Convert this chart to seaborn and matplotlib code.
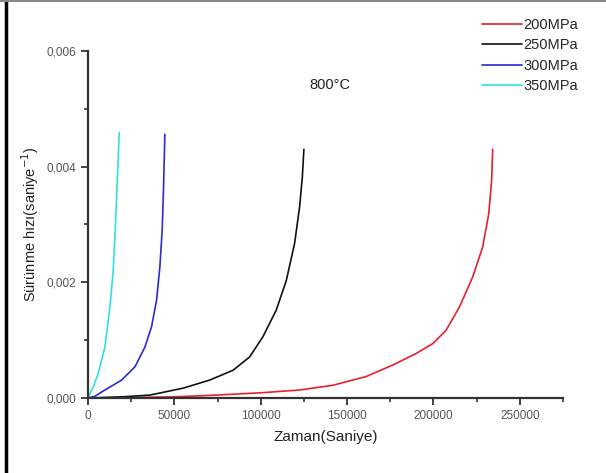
import pandas as pd
import seaborn as sns
import matplotlib.pyplot as plt
from matplotlib.lines import Line2D
from matplotlib.ticker import FuncFormatter, MultipleLocator

# Values (time in s, creep rate in 1/s)
t_200 = [0, 25000, 50000, 74400, 100000, 122500, 141800, 161000, 176500, 190000, 199600,
         207300, 215000, 222700, 228500, 232000, 233700, 234300]
r_200 = [0, 0.000008, 0.00002, 0.00005, 0.00009, 0.000138, 0.00022, 0.00037, 0.00057, 0.00077,
         0.00094, 0.00117, 0.00157, 0.00209, 0.00261, 0.00318, 0.00376, 0.0043]

t_250 = [0, 20000, 35800, 55100, 70500, 84000, 93600, 101300, 109000, 114800, 119600,
         122500, 124100, 125000]
r_250 = [0, 0.00002, 0.00005, 0.00017, 0.00031, 0.00048, 0.00071, 0.00106, 0.00152, 0.00203,
         0.00267, 0.0033, 0.00382, 0.0043]

t_300 = [0, 4000, 9800, 19500, 27200, 32950, 36800, 39700, 41600, 42950, 43750, 44500]
r_300 = [0, 0.00003, 0.000138, 0.00031, 0.00054, 0.00088, 0.00123, 0.00169, 0.00226, 0.0029,
         0.00364, 0.00456]

t_350 = [0, 3060, 5950, 9800, 12700, 14600, 16000, 16950, 18100]
r_350 = [0, 0.000195, 0.000426, 0.00088, 0.00157, 0.0022, 0.00307, 0.00376, 0.00459]

labels = ["200MPa", "250MPa", "300MPa", "350MPa"]
colors = ["#e8202a", "#111111", "#2a2ad6", "#30e0e0"]

frames = []
for lab, t, r in zip(labels, [t_200, t_250, t_300, t_350], [r_200, r_250, r_300, r_350]):
    frames.append(pd.DataFrame({"t": t, "r": r, "seri": lab}))
df = pd.concat(frames, ignore_index=True)

sns.set_style("ticks")
plt.rcParams['font.family'] = ['Liberation Sans', 'DejaVu Sans']

fig = plt.figure(figsize=(6.06, 4.73), dpi=100)
ax = fig.add_axes([0.1452, 0.1586, 0.7838, 0.7336])

sns.lineplot(data=df, x="t", y="r", hue="seri", palette=dict(zip(labels, colors)),
             sort=False, estimator=None, linewidth=1.2, ax=ax, legend=False)

ax.set_xlim(0, 275000)
ax.set_ylim(0, 0.006)
ax.xaxis.set_major_locator(MultipleLocator(50000))
ax.xaxis.set_minor_locator(MultipleLocator(25000))
ax.yaxis.set_major_locator(MultipleLocator(0.002))
ax.yaxis.set_minor_locator(MultipleLocator(0.001))
ax.yaxis.set_major_formatter(FuncFormatter(lambda v, p: f"{v:.3f}".replace(".", ",")))
ax.xaxis.set_major_formatter(FuncFormatter(lambda v, p: f"{int(v)}"))

for side in ["top", "right"]:
    ax.spines[side].set_visible(False)
for side in ["left", "bottom"]:
    ax.spines[side].set_color("#333333")
    ax.spines[side].set_linewidth(1.6)
ax.tick_params(which="major", direction="out", length=5, width=1.3, color="#333333",
               labelsize=8.5, labelcolor="#555555")
ax.tick_params(which="minor", direction="out", length=3, width=1.2, color="#333333")

ax.set_xlabel("Zaman(Saniye)", fontsize=11, color="#222222", labelpad=6)
ax.set_ylabel("Sürünme hızı(saniye$^{-1}$)", fontsize=10.5, color="#222222", labelpad=4)

fig.text(0.545, 0.82, "800°C", fontsize=10.5, color="#222222", ha="center", va="center")

handles = [Line2D([0], [0], color=c, lw=1.2) for c in colors]
fig.legend(handles, labels, loc="upper right", bbox_to_anchor=(0.963, 0.975),
           frameon=False, fontsize=10.5, handlelength=2.7, handletextpad=0.1,
           labelspacing=0.45, borderaxespad=0)

# frame of the original picture
fig.add_artist(Line2D([0.01, 0.01], [0, 1], color="black", lw=2.5, transform=fig.transFigure))
fig.add_artist(Line2D([0, 1], [0.998, 0.998], color="#888888", lw=1.5, transform=fig.transFigure))

fig.savefig("out.png", dpi=100)
